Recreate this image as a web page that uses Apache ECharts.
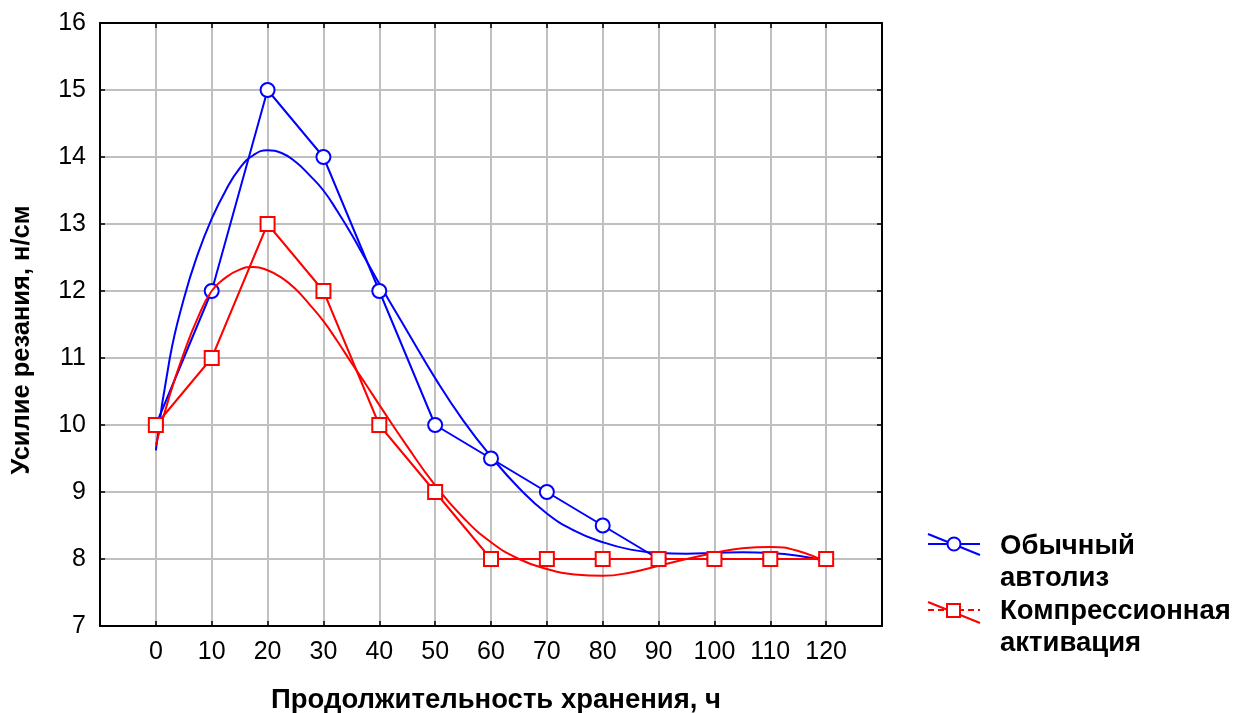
<!DOCTYPE html>
<html>
<head>
<meta charset="utf-8">
<script src="https://cdn.jsdelivr.net/npm/echarts@6/dist/echarts.min.js"></script>
<style>html,body{margin:0;padding:0;background:#fff;}#c{width:1250px;height:713px;}</style>
</head>
<body>
<div id="c"></div>
<script>
// Storage time, h (observed points)
const hours = [0, 10, 20, 30, 40, 50, 60, 70, 80, 90, 100, 110, 120];
const usualAutolysis = [10, 12, 15, 14, 12, 10, 9.5, 9, 8.5, 8, 8, 8, 8];
const compressionActivation = [10, 11, 13, 12, 10, 9, 8, 8, 8, 8, 8, 8, 8];
// Fitted curves
const fitHours = [0, 2.5, 5, 7.5, 10, 12.5, 15, 17.5, 20, 22.5, 25, 27.5, 30, 32.5, 35, 37.5, 40, 45, 50, 55, 60, 65, 70, 75, 80, 85, 90, 95, 100, 105, 110, 115, 120];
const usualFit = [9.62, 11.0, 11.88, 12.55, 13.08, 13.5, 13.83, 14.03, 14.1, 14.06, 13.93, 13.73, 13.5, 13.19, 12.85, 12.48, 12.11, 11.4, 10.7, 10.07, 9.53, 9.06, 8.68, 8.42, 8.25, 8.14, 8.09, 8.08, 8.09, 8.1, 8.09, 8.05, 7.97];
const compressionFit = [9.7, 10.45, 11.07, 11.6, 12.0, 12.2, 12.32, 12.36, 12.31, 12.2, 12.03, 11.8, 11.55, 11.25, 10.93, 10.62, 10.3, 9.68, 9.1, 8.62, 8.25, 8.0, 7.85, 7.77, 7.75, 7.8, 7.9, 8.0, 8.09, 8.16, 8.18, 8.12, 7.95];
const xTicks = [0, 10, 20, 30, 40, 50, 60, 70, 80, 90, 100, 110, 120];
const legendNames = ['Обычный\nавтолиз', 'Компрессионная\nактивация'];
const xTitle = 'Продолжительность хранения, ч';
const yTitle = 'Усилие резания, н/см';

const pair = (xs, ys) => xs.map((x, i) => [x, ys[i]]);
const BLUE = '#0000ff', RED = '#ff0000';

const chart = echarts.init(document.getElementById('c'), null, {renderer: 'canvas'});
const axisLine = {show: true, onZero: false, lineStyle: {color: '#000', width: 2}};
const tick = {show: true, inside: true, length: 5, lineStyle: {color: '#000', width: 1.5}};
const grid = {lineStyle: {color: '#c0c0c0', width: 2}};
chart.setOption({
  animation: false,
  backgroundColor: '#fff',
  grid: {left: 100, right: 368, top: 23, bottom: 87, show: false},
  xAxis: [{
    type: 'value', min: -10, max: 130, interval: 10, position: 'bottom',
    axisLine, axisTick: tick, splitLine: {show: true, ...grid},
    axisLabel: {
      margin: 14, color: '#000', fontSize: 25, fontFamily: '"Liberation Sans Narrow", "Liberation Sans", Arial',
      formatter: v => xTicks.includes(v) ? String(v) : ''
    }
  }, {
    type: 'value', min: -10, max: 130, interval: 10, position: 'top',
    axisLine, axisTick: tick, splitLine: {show: false}, axisLabel: {show: false}
  }],
  yAxis: [{
    type: 'value', min: 7, max: 16, interval: 1, position: 'left',
    axisLine, axisTick: tick, splitLine: {show: true, ...grid},
    axisLabel: {margin: 14, color: '#000', fontSize: 25, fontFamily: '"Liberation Sans", Arial'}
  }, {
    type: 'value', min: 7, max: 16, interval: 1, position: 'right',
    axisLine, axisTick: tick, splitLine: {show: false}, axisLabel: {show: false}
  }],
  series: [
    {type: 'line', data: pair(fitHours, usualFit), smooth: 0.5, showSymbol: false, lineStyle: {color: BLUE, width: 2}, z: 3},
    {type: 'line', data: pair(hours, usualAutolysis), symbol: 'circle', symbolSize: 14,
      itemStyle: {color: '#fff', borderColor: BLUE, borderWidth: 2}, lineStyle: {color: BLUE, width: 2}, z: 4},
    {type: 'line', data: pair(fitHours, compressionFit), smooth: 0.5, showSymbol: false, lineStyle: {color: RED, width: 2}, z: 5},
    {type: 'line', data: pair(hours, compressionActivation), symbol: 'rect', symbolSize: 14,
      itemStyle: {color: '#fff', borderColor: RED, borderWidth: 2}, lineStyle: {color: RED, width: 2}, z: 6}
  ],
  graphic: [
    {type: 'text', x: 496, y: 700, style: {text: xTitle, font: 'bold 27.5px "Liberation Sans", Arial', fill: '#000', align: 'center', verticalAlign: 'middle'}},
    {type: 'text', x: 22, y: 340, rotation: Math.PI / 2, style: {text: yTitle, font: 'bold 25.5px "Liberation Sans", Arial', fill: '#000', align: 'center', verticalAlign: 'middle'}},
    // legend item 1
    {type: 'line', shape: {x1: 928, y1: 544, x2: 980, y2: 544}, style: {stroke: BLUE, lineWidth: 2}},
    {type: 'line', shape: {x1: 928, y1: 534, x2: 980, y2: 555}, style: {stroke: BLUE, lineWidth: 2}},
    {type: 'circle', shape: {cx: 954, cy: 544, r: 6.5}, style: {fill: '#fff', stroke: BLUE, lineWidth: 2}},
    {type: 'text', x: 1000, y: 562, style: {text: legendNames[0], font: 'bold 27.5px "Liberation Sans", Arial', fill: '#000', lineHeight: 32, verticalAlign: 'middle'}},
    // legend item 2
    {type: 'line', shape: {x1: 928, y1: 610, x2: 980, y2: 610}, style: {stroke: RED, lineWidth: 2, lineDash: [6, 4]}},
    {type: 'line', shape: {x1: 928, y1: 602, x2: 980, y2: 623}, style: {stroke: RED, lineWidth: 2}},
    {type: 'rect', shape: {x: 947, y: 604, width: 13, height: 13}, style: {fill: '#fff', stroke: RED, lineWidth: 2}},
    {type: 'text', x: 1000, y: 627, style: {text: legendNames[1], font: 'bold 27.5px "Liberation Sans", Arial', fill: '#000', lineHeight: 32, verticalAlign: 'middle'}}
  ]
});
</script>
</body>
</html>
